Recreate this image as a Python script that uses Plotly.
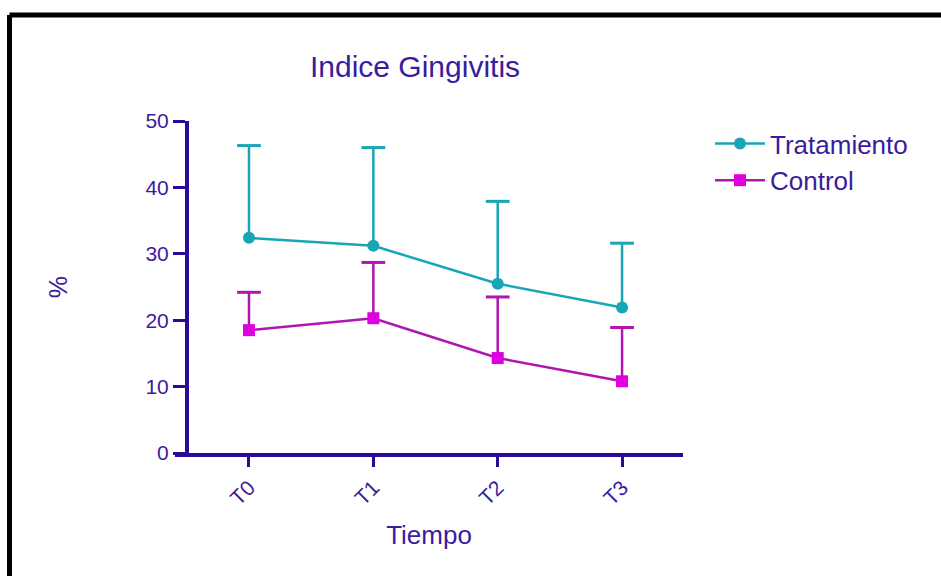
import plotly.graph_objects as go

categories = ["T0", "T1", "T2", "T3"]
trat_mean = [32.4, 31.2, 25.5, 21.9]
trat_err = [13.9, 14.8, 12.4, 9.7]
ctrl_mean = [18.5, 20.3, 14.3, 10.8]
ctrl_err = [5.7, 8.4, 9.2, 8.1]
y_ticks = [0, 10, 20, 30, 40, 50]

AXIS = "#2A0A98"
TEXT = "#3A1C9E"
TEAL = "#18A6B6"
MAG_LINE = "#B015B0"
MAG_MARK = "#DE00DE"
FONT = "Liberation Sans, Arial, sans-serif"

W, H = 941, 576
L, R, T, B = 175, 683, 121, 453
pw, ph = R - L, B - T

fig = go.Figure()


def add_series(name, means, errs, line_color, mark_color, symbol):
    # upper-only error bars: vertical stems + cap markers
    ex, ey = [], []
    for c, m, e in zip(categories, means, errs):
        ex += [c, c, None]
        ey += [m, m + e, None]
    fig.add_trace(go.Scatter(x=ex, y=ey, mode="lines", showlegend=False,
                             hoverinfo="skip",
                             line=dict(color=line_color, width=2.5)))
    fig.add_trace(go.Scatter(x=categories, y=[m + e for m, e in zip(means, errs)],
                             mode="markers", showlegend=False, hoverinfo="skip",
                             marker=dict(symbol="line-ew", size=17,
                                         line=dict(color=line_color, width=3))))
    fig.add_trace(go.Scatter(x=categories, y=means, name=name, mode="lines+markers",
                             line=dict(color=line_color, width=2.5),
                             marker=dict(symbol=symbol, size=12, color=mark_color)))


add_series("Tratamiento", trat_mean, trat_err, TEAL, TEAL, "circle")
add_series("Control", ctrl_mean, ctrl_err, MAG_LINE, MAG_MARK, "square")


def px_x(x):
    return (x - L) / pw


def px_y(y):
    return (B - y) / ph


shapes = [
    dict(type="line", xref="paper", yref="paper", x0=px_x(9.5), x1=px_x(960),
         y0=px_y(15), y1=px_y(15), line=dict(color="black", width=5)),
    dict(type="line", xref="paper", yref="paper", x0=px_x(9.5), x1=px_x(9.5),
         y0=px_y(15), y1=px_y(600), line=dict(color="black", width=5)),
]

fig.update_layout(
    width=W, height=H,
    margin=dict(l=L, r=W - R, t=T, b=H - B, pad=0),
    paper_bgcolor="white", plot_bgcolor="white",
    font=dict(family=FONT, color=TEXT, size=20),
    title=dict(text="Indice Gingivitis", x=415 / W, xanchor="center",
               y=1 - 66 / H, yanchor="middle", font=dict(size=30, color=TEXT)),
    xaxis=dict(
        type="category", range=[-0.595, 3.49], showgrid=False, zeroline=False,
        showline=True, linecolor=AXIS, linewidth=4,
        ticks="outside", ticklen=10, tickwidth=3, tickcolor=AXIS,
        tickangle=-45, tickfont=dict(size=21, color=TEXT),
        title=dict(text="Tiempo", font=dict(size=26, color=TEXT), standoff=19),
    ),
    yaxis=dict(
        range=[0, 50], tickvals=y_ticks, showgrid=False, zeroline=False,
        showline=True, linecolor=AXIS, linewidth=4,
        anchor="free", position=px_x(187),
        ticks="outside", ticklen=12, tickwidth=3, tickcolor=AXIS,
        tickfont=dict(size=21, color=TEXT),
        title=dict(text="%", font=dict(size=25, color=TEXT), standoff=70),
    ),
    legend=dict(x=px_x(710), y=px_y(120), xanchor="left", yanchor="top",
                font=dict(size=26, color=TEXT), bgcolor="rgba(0,0,0,0)",
                tracegroupgap=0, itemwidth=50),
    shapes=shapes,
    showlegend=True,
)

fig.write_html("out.html")
